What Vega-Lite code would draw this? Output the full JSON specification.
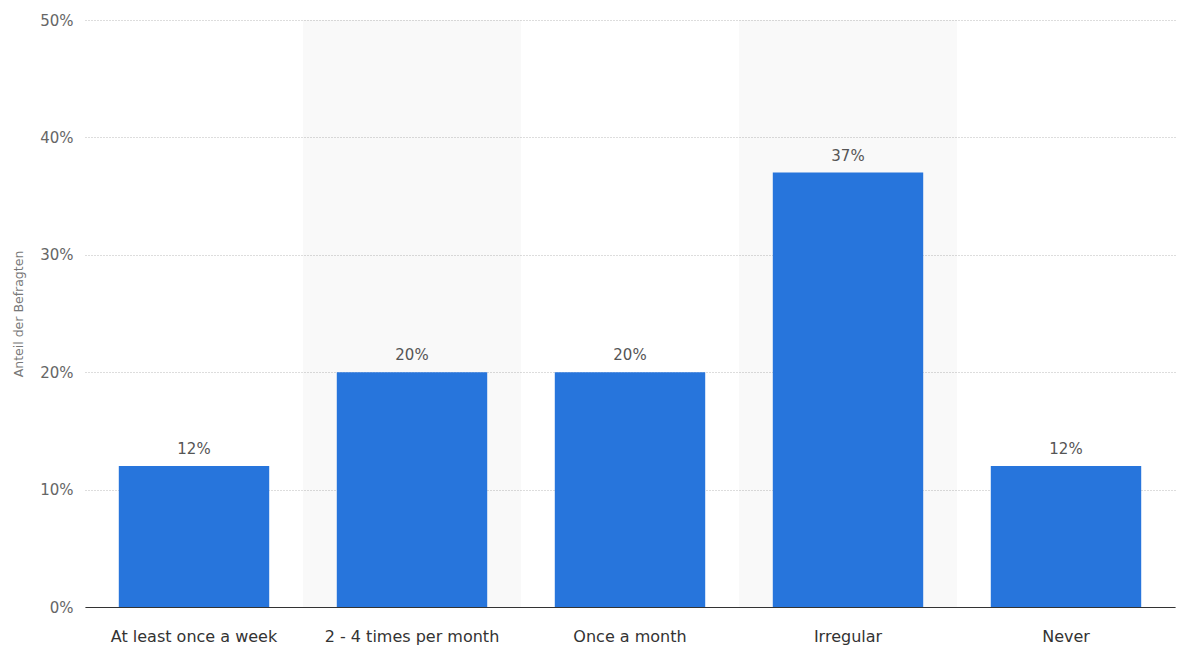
{
  "$schema": "https://vega.github.io/schema/vega-lite/v6.json",
  "width": 1090,
  "height": 587,
  "autosize": {"type": "none"},
  "padding": {"left": 85, "top": 20, "right": 7, "bottom": 41},
  "background": "white",
  "config": {
    "font": "DejaVu Sans",
    "view": {"stroke": null}
  },
  "data": {
    "values": [
      {"category": "At least once a week", "value": 12, "label": "12%", "shade": false},
      {"category": "2 - 4 times per month", "value": 20, "label": "20%", "shade": true},
      {"category": "Once a month", "value": 20, "label": "20%", "shade": false},
      {"category": "Irregular", "value": 37, "label": "37%", "shade": true},
      {"category": "Never", "value": 12, "label": "12%", "shade": false}
    ]
  },
  "encoding": {
    "x": {
      "field": "category",
      "type": "nominal",
      "sort": ["At least once a week", "2 - 4 times per month", "Once a month", "Irregular", "Never"],
      "scale": {"paddingInner": 0, "paddingOuter": 0},
      "axis": {
        "title": null,
        "labelAngle": 0,
        "labelFontSize": 16,
        "labelColor": "#333333",
        "labelPadding": 21,
        "ticks": false,
        "domain": true,
        "domainColor": "#333333",
        "domainWidth": 1.2,
        "grid": false
      }
    }
  },
  "layer": [
    {
      "transform": [{"filter": "datum.shade"}],
      "mark": {"type": "rect", "color": "#000000", "opacity": 0.025},
      "encoding": {
        "y": {"datum": 0, "type": "quantitative"},
        "y2": {"datum": 50}
      }
    },
    {
      "mark": {"type": "bar", "color": "#2775dc", "width": {"band": 0.69}},
      "encoding": {
        "y": {
          "field": "value",
          "type": "quantitative",
          "scale": {"domain": [0, 50]},
          "axis": {
            "title": "Anteil der Befragten",
            "titleFontSize": 12.5,
            "titleFontWeight": "normal",
            "titleColor": "#777777",
            "titlePadding": 14,
            "values": [0, 10, 20, 30, 40, 50],
            "labelExpr": "datum.value + '%'",
            "labelFontSize": 15,
            "labelColor": "#666666",
            "labelPadding": 12,
            "ticks": false,
            "domain": false,
            "grid": true,
            "gridColor": "#bbbbbb",
            "gridDash": [1, 2],
            "gridWidth": 1
          }
        }
      }
    },
    {
      "mark": {"type": "text", "baseline": "bottom", "dy": -9, "fontSize": 15, "color": "#555555"},
      "encoding": {
        "y": {"field": "value", "type": "quantitative"},
        "text": {"field": "label"}
      }
    }
  ]
}
